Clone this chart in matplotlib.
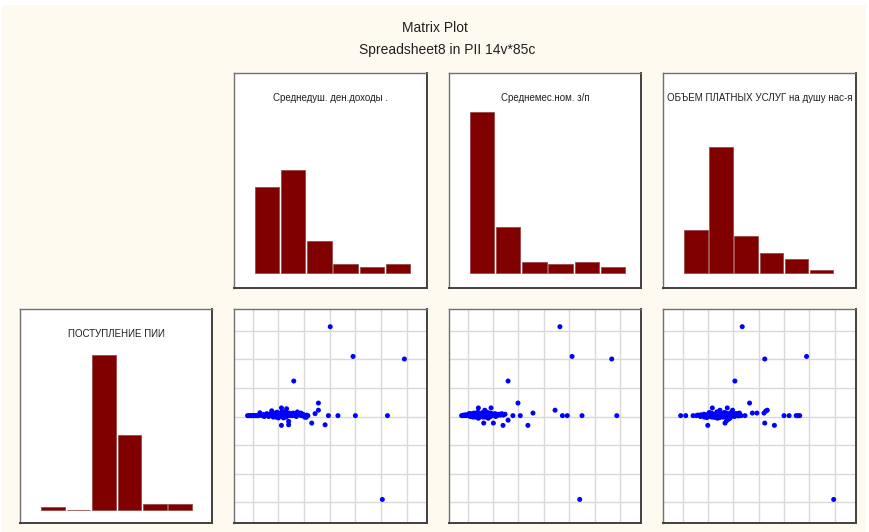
import matplotlib
matplotlib.use("Agg")
import matplotlib.pyplot as plt
import matplotlib.font_manager as fm
from matplotlib.patches import Rectangle

names = {f.name for f in fm.fontManager.ttflist}
NARROW = "Liberation Sans Narrow" if "Liberation Sans Narrow" in names else "Liberation Sans"
FONT = [NARROW, "Liberation Sans", "DejaVu Sans"]

# ---------------- data ----------------
title = "Matrix Plot"
subtitle = "Spreadsheet8 in PII 14v*85c"

var_names = ["Среднедуш. ден.доходы .", "Среднемес.ном. з/п",
             "ОБЪЕМ ПЛАТНЫХ УСЛУГ на душу нас-я"]
y_name = "ПОСТУПЛЕНИЕ ПИИ"

hist_income = [30, 36, 11, 3, 2, 3]
hist_wage = [56, 16, 4, 3, 4, 2]
hist_services = [15, 44, 13, 7, 5, 1]
hist_pii = [1, 0, 54, 26, 2, 2]

# scatter: x in grid units, y (PII) in grid units
sc1_x = [3.02, 3.91, 5.91, 1.60, 2.56, 2.56, 2.43, 2.95, 3.32, 4.00, 5.25, 2.30, 2.82, 1.12, 1.40, 1.40, 5.05,
         -0.20, -0.15, -0.10, -0.05, 0.00, 0.05, 0.10, 0.15, 0.22, 0.28, 0.32, 0.38, 0.42, 0.48, 0.52, 0.55,
         0.60, 0.65, 0.70, 0.74, 0.78, 0.82, 0.85, 0.88, 0.92, 0.95, 0.98, 1.02, 1.05, 1.08, 1.12, 1.15,
         1.18, 1.20, 1.22, 1.25, 1.28, 1.32, 1.35, 1.38, 1.42, 1.45, 1.48, 1.52, 1.55, 1.60, 1.65, 1.74,
         1.78, 1.85, 1.90, 1.95, 2.00, 2.05, 2.10, 2.15, 1.00, 0.90, 1.30, 2.02, 1.70, 0.62, 0.45, 1.10,
         0.80, 1.58, 1.88, 2.08]
sc1_y = [6.14, 5.10, 5.01, 4.24, 3.47, 3.22, 3.10, 3.03, 3.03, 3.03, 3.03, 2.77, 2.71, 2.69, 2.83, 2.71, 0.10,
         3.03, 3.03, 3.03, 3.03, 3.03, 3.03, 3.03, 3.03, 3.03, 3.13, 3.05, 3.03, 3.07, 3.03, 3.05, 3.10,
         3.03, 3.08, 3.03, 3.20, 3.05, 3.10, 3.03, 3.12, 3.05, 3.15, 3.03, 3.08, 3.03, 3.12, 3.30, 3.18,
         3.05, 2.95, 3.10, 3.03, 3.15, 3.27, 3.08, 3.03, 3.12, 3.05, 3.03, 3.10, 3.03, 3.05, 3.03, 3.16,
         3.08, 3.05, 3.03, 3.08, 3.05, 3.03, 3.05, 3.03, 2.95, 2.98, 2.98, 2.98, 3.00, 3.00, 3.00, 3.00,
         2.98, 3.12, 3.12, 2.97]

sc2_x = [3.63, 4.11, 5.67, 1.59, 1.98, 3.44, 3.73, 3.92, 4.50, 5.87, 2.57, 2.07, 1.78, 2.37, 1.39, 1.01, 0.63,
         1.59, 4.41, 0.42, 0.92, 0.67, 0.42, 0.81,
         -0.24, -0.20, -0.16, -0.12, -0.08, -0.04, 0.00, 0.04, 0.08, 0.12, 0.16, 0.20, 0.24, 0.28, 0.32,
         0.36, 0.40, 0.44, 0.48, 0.52, 0.56, 0.60, 0.64, 0.68, 0.72, 0.76, 0.80, 0.84, 0.88, 0.92, 0.96,
         1.00, 1.04, 1.08, 1.12, 1.16, 1.22, 1.28, 1.34, 1.40, 1.47, 0.10, 0.30, 0.50, 0.70, 0.90, 0.20,
         0.60, 1.10, 0.35, 0.55, 0.75, 0.95, 0.05, 0.25, 0.45, 0.65]
sc2_y = [6.14, 5.10, 5.01, 4.24, 3.47, 3.22, 3.03, 3.03, 3.03, 3.03, 3.12, 3.03, 3.03, 2.69, 2.69, 2.77, 2.77,
         2.87, 0.10, 3.30, 3.30, 3.22, 2.94, 2.94,
         3.03, 3.03, 3.05, 3.03, 3.06, 3.03, 3.05, 3.08, 3.03, 3.10, 3.05, 3.03, 3.12, 3.05, 3.08,
         3.03, 3.15, 3.05, 3.10, 3.03, 3.12, 3.05, 3.03, 3.10, 3.05, 3.15, 3.03, 3.08, 3.12, 3.05, 3.03,
         3.08, 3.05, 3.10, 3.05, 3.03, 3.08, 3.05, 3.10, 3.05, 3.08, 3.00, 2.98, 3.00, 2.98, 3.00, 2.98,
         2.98, 3.00, 3.12, 3.12, 3.12, 3.10, 3.10, 3.10, 2.98, 3.02]

sc3_x = [2.35, 4.89, 3.24, 2.06, 2.64, 2.75, 2.93, 3.21, 3.28, 3.34, 3.24, 3.62, 4.00, 4.20, 4.48, 4.55, 4.62,
         2.46, 0.99, 1.67, 1.73, 1.80, 5.96, -0.08, 0.12, 0.41, 1.17, 1.47, 1.76, 1.97, 2.24, 1.37,
         0.54, 0.60, 0.66, 0.72, 0.78, 0.84, 0.90, 0.96, 1.02, 1.08, 1.14, 1.20, 1.26, 1.32, 1.38, 1.44,
         1.50, 1.56, 1.62, 1.68, 1.74, 1.80, 1.86, 1.92, 1.98, 2.04, 2.10, 2.16, 2.22, 2.31, 0.70, 0.85,
         1.00, 1.15, 1.30, 1.45, 1.60, 1.75, 1.90, 2.05, 2.20, 1.05, 1.35, 1.65, 1.95, 0.95, 1.25, 1.55,
         1.85, 2.15, 1.10, 1.50, 1.70]
sc3_y = [6.14, 5.10, 5.01, 4.24, 3.47, 3.12, 3.12, 3.12, 3.19, 3.22, 2.77, 2.69, 3.03, 3.03, 3.03, 3.03, 3.03,
         3.03, 2.69, 2.77, 2.85, 2.90, 0.10, 3.03, 3.03, 3.03, 3.30, 3.22, 3.30, 3.22, 3.12, 2.94,
         3.03, 3.05, 3.03, 3.06, 3.03, 3.08, 3.05, 3.03, 3.10, 3.05, 3.12, 3.08, 3.03, 3.10, 3.05, 3.15,
         3.03, 3.08, 3.12, 3.05, 3.03, 3.10, 3.05, 3.15, 3.08, 3.03, 3.10, 3.05, 3.08, 3.03, 3.00, 2.98,
         3.00, 2.98, 3.00, 2.96, 2.98, 2.95, 2.98, 3.00, 3.02, 3.14, 3.16, 3.14, 3.12, 2.96, 2.97, 2.99,
         2.93, 3.10, 3.00, 3.00, 3.12]

# ---------------- layout ----------------
W, H = 870, 532
BG = "#FFFAF0"
BAR = "#800000"

fig = plt.figure(figsize=(W / 100, H / 100), dpi=100)
fig.patch.set_facecolor("white")
fig.patches.append(Rectangle((2 / W, 0), (866 - 2) / W, (H - 5) / H,
                             transform=fig.transFigure, facecolor=BG,
                             edgecolor="none", zorder=-10))


def px_axes(x0, y0, x1, y1):
    return fig.add_axes([x0 / W, (H - y1) / H, (x1 - x0) / W, (y1 - y0) / H])


def frame(ax):
    ax.set_facecolor("white")
    for s in ("top", "left"):
        ax.spines[s].set_color("#707070")
        ax.spines[s].set_linewidth(1.0)
    for s in ("right", "bottom"):
        ax.spines[s].set_color("#404040")
        ax.spines[s].set_linewidth(1.4)
    ax.set_xticks([])
    ax.set_yticks([])


UNIT = 2.87  # px per count


def hist_panel(box, counts, label, bar_l, bar_r, base_y, fs):
    x0, y0, x1, y1 = box
    ax = px_axes(*box)
    frame(ax)
    n = len(counts)
    bw = (bar_r - bar_l) / n
    ax.bar(range(n), counts, width=0.93, color=BAR, edgecolor="#9a4a4a",
           linewidth=0.6, align="center")
    ax.set_xlim(-0.5 - (bar_l - x0) / bw, n - 0.5 + (x1 - bar_r) / bw)
    ax.set_ylim(-(y1 - base_y) / UNIT, (base_y - y0) / UNIT)
    ax.text(0.5, 0.885, label, transform=ax.transAxes, ha="center",
            va="center", fontsize=fs, family=FONT, color="#202020")
    return ax


def scatter_panel(box, xs, ys, gx0, gdx):
    x0, y0, x1, y1 = box
    ax = px_axes(*box)
    frame(ax)
    gy0, gdy = 502.3, 28.6
    ax.set_xlim(-(gx0 - x0) / gdx, (x1 - gx0) / gdx)
    ax.set_ylim(-(y1 - gy0) / gdy, (gy0 - y0) / gdy)
    for k in range(7):
        ax.axvline(k, color="#d9d9d9", lw=1.0, zorder=0)
        ax.axhline(k, color="#d9d9d9", lw=1.0, zorder=0)
    ax.scatter(xs, ys, s=13, color="#0000FF", edgecolors="none", zorder=3)
    return ax


hist_panel((234, 73, 427, 288), hist_income, var_names[0], 254, 411, 273, 7)
hist_panel((449, 73, 641, 288), hist_wage, var_names[1], 469, 626, 273, 7)
hist_panel((663, 73, 856, 288), hist_services, var_names[2], 683.3, 834, 273, 7)
hist_panel((20, 309, 212, 523), hist_pii, y_name, 40.3, 193, 510, 7)

scatter_panel((234, 309, 427, 523), sc1_x, sc1_y, 252.7, 25.67)
scatter_panel((449, 309, 641, 523), sc2_x, sc2_y, 467.7, 25.4)
scatter_panel((663, 309, 856, 523), sc3_x, sc3_y, 682.7, 25.33)

fig.text(435 / W, 1 - 28 / H, title, ha="center", va="center",
         fontsize=10, family=FONT, color="#202020")
fig.text(447 / W, 1 - 50 / H, subtitle, ha="center", va="center",
         fontsize=10, family=FONT, color="#202020")

fig.savefig("out.png", dpi=100, facecolor=fig.get_facecolor())
